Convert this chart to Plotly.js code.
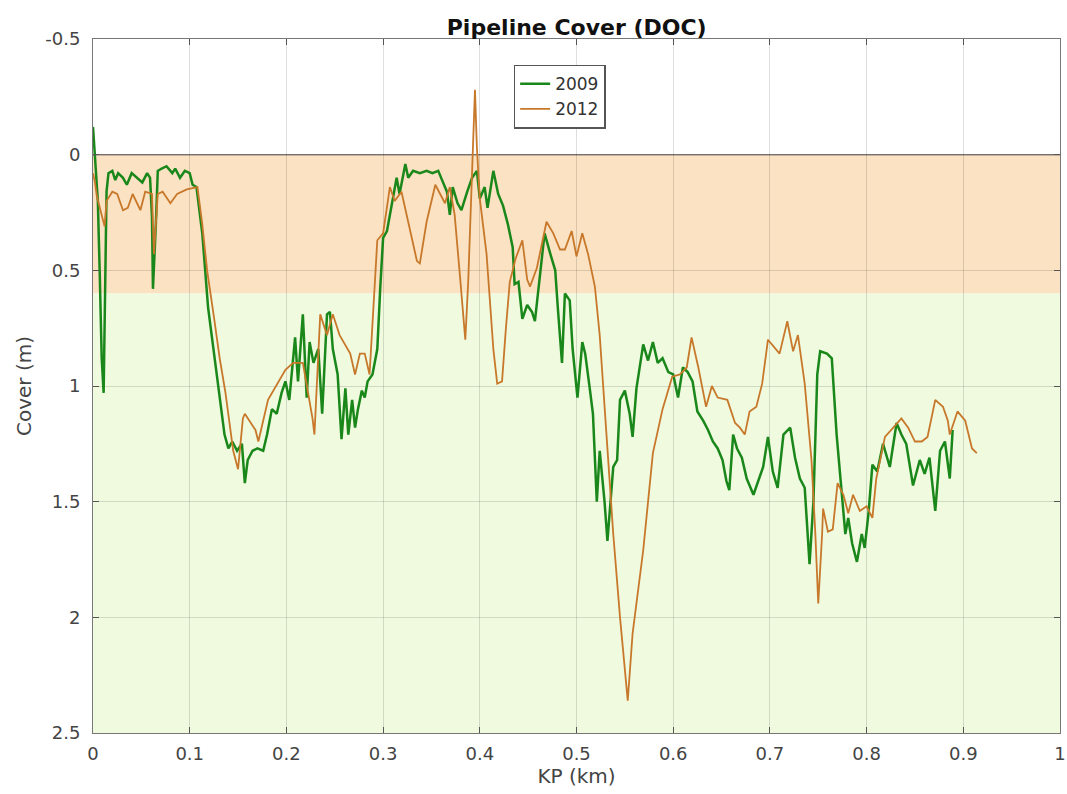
<!DOCTYPE html>
<html>
<head>
<meta charset="utf-8">
<script src="https://cdn.plot.ly/plotly-3.0.1.min.js"></script>
<style>
  html, body { margin: 0; padding: 0; background: #ffffff; }
  #chart { width: 1067px; height: 794px; }
</style>
</head>
<body>
<div id="chart"></div>
<script>
// Depth of cover along the pipeline route, two surveys.
const kp2009 = [0.000,0.002,0.005,0.007,0.009,0.011,0.012,0.014,0.016,0.020,0.023,0.026,0.031,0.035,0.040,0.046,0.051,0.056,0.059,0.061,0.062,0.065,0.067,0.071,0.076,0.082,0.085,0.090,0.095,0.100,0.103,0.107,0.113,0.119,0.126,0.131,0.136,0.140,0.144,0.149,0.154,0.157,0.160,0.165,0.170,0.176,0.180,0.185,0.190,0.195,0.199,0.203,0.209,0.212,0.217,0.221,0.224,0.228,0.233,0.237,0.242,0.245,0.248,0.253,0.257,0.261,0.264,0.268,0.271,0.274,0.278,0.281,0.284,0.289,0.294,0.297,0.300,0.304,0.307,0.310,0.314,0.317,0.323,0.326,0.331,0.338,0.345,0.351,0.357,0.361,0.366,0.369,0.372,0.377,0.381,0.387,0.392,0.397,0.400,0.405,0.408,0.414,0.419,0.424,0.429,0.434,0.436,0.440,0.444,0.449,0.454,0.457,0.462,0.467,0.473,0.478,0.481,0.485,0.488,0.493,0.496,0.501,0.506,0.509,0.514,0.517,0.521,0.524,0.529,0.532,0.538,0.542,0.545,0.550,0.555,0.558,0.562,0.569,0.574,0.579,0.584,0.589,0.595,0.600,0.605,0.610,0.615,0.620,0.625,0.631,0.636,0.641,0.646,0.651,0.655,0.658,0.662,0.666,0.671,0.676,0.683,0.688,0.693,0.698,0.703,0.708,0.714,0.721,0.726,0.731,0.736,0.741,0.745,0.749,0.752,0.759,0.764,0.769,0.775,0.778,0.781,0.785,0.790,0.795,0.798,0.802,0.806,0.811,0.817,0.824,0.831,0.836,0.841,0.848,0.855,0.860,0.865,0.871,0.876,0.881,0.886,0.889,0.893];
const cover2009 = [-0.12,0.01,0.20,0.52,0.88,1.03,0.66,0.16,0.08,0.07,0.11,0.08,0.10,0.13,0.08,0.10,0.12,0.08,0.10,0.27,0.58,0.30,0.07,0.06,0.05,0.08,0.06,0.10,0.07,0.08,0.13,0.14,0.34,0.66,0.88,1.03,1.21,1.27,1.24,1.28,1.25,1.42,1.32,1.28,1.27,1.28,1.21,1.10,1.12,1.03,0.98,1.06,0.79,0.98,0.69,1.05,0.81,0.90,0.84,1.12,0.69,0.68,0.84,0.95,1.23,1.01,1.21,1.06,1.18,1.10,1.02,1.05,0.98,0.95,0.84,0.58,0.36,0.33,0.26,0.20,0.10,0.17,0.04,0.10,0.07,0.08,0.07,0.08,0.07,0.11,0.16,0.26,0.14,0.21,0.24,0.16,0.10,0.07,0.19,0.14,0.23,0.07,0.17,0.22,0.30,0.40,0.56,0.55,0.71,0.65,0.68,0.72,0.53,0.34,0.43,0.50,0.68,0.90,0.60,0.63,0.84,1.05,0.81,0.86,1.02,1.12,1.50,1.28,1.50,1.67,1.35,1.32,1.06,1.02,1.12,1.22,1.01,0.82,0.89,0.81,0.90,0.88,0.94,0.95,1.05,0.92,0.94,0.98,1.11,1.15,1.19,1.24,1.27,1.32,1.41,1.45,1.21,1.27,1.31,1.40,1.47,1.41,1.35,1.22,1.37,1.44,1.21,1.18,1.31,1.40,1.44,1.77,1.50,0.95,0.85,0.86,0.88,1.21,1.48,1.64,1.57,1.68,1.76,1.64,1.70,1.55,1.34,1.37,1.25,1.35,1.16,1.21,1.25,1.43,1.32,1.38,1.31,1.54,1.28,1.24,1.40,1.19];

const kp2012 = [0.000,0.002,0.004,0.009,0.012,0.014,0.020,0.025,0.031,0.036,0.041,0.049,0.054,0.061,0.063,0.067,0.072,0.080,0.087,0.097,0.108,0.113,0.118,0.125,0.131,0.137,0.142,0.145,0.150,0.155,0.157,0.168,0.171,0.181,0.199,0.207,0.217,0.227,0.229,0.235,0.242,0.248,0.255,0.266,0.271,0.276,0.281,0.286,0.294,0.300,0.307,0.312,0.319,0.326,0.335,0.338,0.345,0.354,0.359,0.364,0.369,0.374,0.380,0.385,0.388,0.393,0.395,0.397,0.400,0.407,0.414,0.418,0.423,0.427,0.431,0.437,0.444,0.449,0.452,0.459,0.469,0.476,0.483,0.488,0.495,0.500,0.506,0.512,0.519,0.524,0.531,0.538,0.545,0.553,0.558,0.569,0.579,0.589,0.599,0.607,0.614,0.619,0.626,0.634,0.640,0.646,0.656,0.664,0.669,0.674,0.679,0.686,0.692,0.698,0.710,0.718,0.724,0.729,0.736,0.743,0.747,0.750,0.754,0.755,0.760,0.765,0.770,0.776,0.781,0.786,0.793,0.800,0.806,0.810,0.819,0.827,0.836,0.843,0.850,0.857,0.863,0.871,0.879,0.884,0.886,0.894,0.902,0.909,0.914];
const cover2012 = [0.08,0.12,0.18,0.26,0.31,0.20,0.16,0.17,0.24,0.23,0.17,0.24,0.16,0.17,0.43,0.17,0.16,0.21,0.17,0.15,0.14,0.30,0.50,0.70,0.88,1.03,1.18,1.28,1.36,1.14,1.12,1.19,1.24,1.06,0.93,0.90,0.90,1.14,1.21,0.69,0.78,0.69,0.78,0.86,0.95,0.86,0.86,0.95,0.37,0.34,0.14,0.20,0.16,0.29,0.46,0.47,0.29,0.13,0.17,0.21,0.14,0.26,0.55,0.80,0.55,0.00,-0.28,-0.03,0.19,0.43,0.84,0.99,0.98,0.75,0.55,0.45,0.37,0.54,0.57,0.49,0.29,0.34,0.41,0.41,0.33,0.44,0.34,0.43,0.57,0.78,1.21,1.64,2.00,2.36,2.07,1.71,1.29,1.10,0.96,0.95,0.92,0.79,0.92,1.09,1.00,1.05,1.06,1.16,1.18,1.21,1.11,1.09,0.99,0.80,0.86,0.72,0.85,0.78,0.99,1.32,1.64,1.94,1.64,1.53,1.63,1.62,1.42,1.47,1.55,1.47,1.54,1.52,1.57,1.40,1.22,1.18,1.14,1.18,1.24,1.24,1.22,1.06,1.09,1.15,1.21,1.11,1.15,1.27,1.29];

// Cover thresholds used for the shaded bands
const shallowLimit = 0.6;
const yTickVals = [-0.5, 0, 0.5, 1, 1.5, 2, 2.5];
const yTickText = ['-0.5', '0', '0.5', '1', '1.5', '2', '2.5'];
const xTickVals = [0, 0.1, 0.2, 0.3, 0.4, 0.5, 0.6, 0.7, 0.8, 0.9, 1];
const xTickText = ['0', '0.1', '0.2', '0.3', '0.4', '0.5', '0.6', '0.7', '0.8', '0.9', '1'];

const FONT = 'DejaVu Sans, Liberation Sans, sans-serif';

const traces = [
  {
    x: kp2009, y: cover2009, name: '2009', type: 'scatter', mode: 'lines',
    line: { color: '#1a871a', width: 2.5 }
  },
  {
    x: kp2012, y: cover2012, name: '2012', type: 'scatter', mode: 'lines',
    line: { color: '#c8782a', width: 1.8 }
  }
];

const axisCommon = {
  showline: true, linecolor: '#777777', linewidth: 1, mirror: 'ticks',
  ticks: 'inside', ticklen: 6, tickcolor: '#555555', tickwidth: 1,
  showgrid: true, gridcolor: 'rgba(0,0,0,0.13)', gridwidth: 1,
  zeroline: false,
  tickfont: { family: FONT, size: 18, color: '#444444' }
};

const layout = {
  width: 1067, height: 794,
  margin: { l: 93, r: 7, t: 39, b: 61 },
  paper_bgcolor: '#ffffff', plot_bgcolor: '#ffffff',
  font: { family: FONT, color: '#333333' },
  title: {
    text: '<b>Pipeline Cover (DOC)</b>',
    font: { family: FONT, size: 22, color: '#111111' },
    x: 0.5405, xanchor: 'center', y: 0.965, yanchor: 'middle'
  },
  xaxis: Object.assign({}, axisCommon, {
    range: [0, 1], tickvals: xTickVals, ticktext: xTickText,
    ticklabelstandoff: 4,
    title: { text: 'KP (km)', font: { family: FONT, size: 20, color: '#444444' }, standoff: 4 }
  }),
  yaxis: Object.assign({}, axisCommon, {
    range: [2.5, -0.5], tickvals: yTickVals, ticktext: yTickText,
    ticklabelstandoff: 8,
    title: { text: 'Cover (m)', font: { family: FONT, size: 20, color: '#444444' }, standoff: 8 }
  }),
  shapes: [
    { type: 'rect', xref: 'paper', yref: 'y', x0: 0, x1: 1, y0: 0, y1: shallowLimit,
      fillcolor: '#fae2c2', line: { width: 0 }, layer: 'below' },
    { type: 'rect', xref: 'paper', yref: 'y', x0: 0, x1: 1, y0: shallowLimit, y1: 2.5,
      fillcolor: '#effadf', line: { width: 0 }, layer: 'below' },
    { type: 'line', xref: 'paper', yref: 'y', x0: 0, x1: 1, y0: 0, y1: 0,
      line: { color: '#8a8178', width: 1.5 }, layer: 'below' }
  ],
  legend: {
    x: 0.435, y: 0.963, xanchor: 'left', yanchor: 'top',
    bgcolor: '#ffffff', bordercolor: '#555555', borderwidth: 1.5,
    font: { family: FONT, size: 17, color: '#333333' },
    itemwidth: 30, tracegroupgap: 0
  },
  showlegend: true
};

Plotly.newPlot('chart', traces, layout, { staticPlot: true, displayModeBar: false });
</script>
</body>
</html>
